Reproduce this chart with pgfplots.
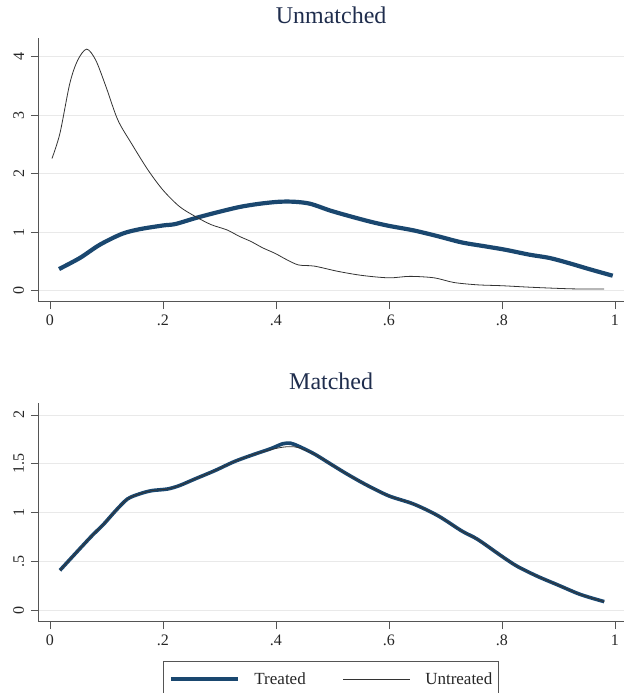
\documentclass[border=0pt]{standalone}
\usepackage{fontspec}
\setmainfont{Liberation Serif}
\usepackage{pgfplots}
\pgfplotsset{compat=1.18}
\definecolor{stnavy}{HTML}{1A476F}
\definecolor{titlecol}{HTML}{1F2D4D}
\definecolor{axiscol}{HTML}{555555}
\definecolor{gridcol}{HTML}{E9E9E9}
\pgfplotsset{
  stata/.style={
    scale only axis,
    anchor=south west,
    width=585.7bp,
    xmin=-0.0207, xmax=1.016,
    axis x line*=bottom, axis y line*=left,
    axis line style={axiscol, line width=0.9bp},
    every tick/.style={axiscol, line width=0.9bp},
    tick align=outside,
    major tick length=7.5bp,
    xtick={0,0.2,0.4,0.6,0.8,1},
    xticklabels={0,.2,.4,.6,.8,1},
    ymajorgrids,
    grid style={gridcol, line width=0.9bp},
    tick label style={font=\fontsize{16bp}{19bp}\selectfont, text=black!85},
    xticklabel style={inner sep=0pt, anchor=north, yshift=-5.5bp},
    yticklabel style={rotate=90, inner sep=0pt, anchor=south, yshift=6.5bp},
    title style={font=\fontsize{24bp}{28bp}\selectfont, text=titlecol, at={(0.5,1)}, anchor=base},
    clip=false,
  }
}
\begin{document}
\begin{tikzpicture}
\useasboundingbox (0,0) rectangle (624bp,693bp);
% ---------- Unmatched ----------
\begin{axis}[stata,
  at={(38.3bp,391.3bp)},
  height=263.7bp,
  ymin=-0.188, ymax=4.32,
  ytick={0,1,2,3,4},
  yticklabels={0,1,2,3,4},
  title={Unmatched},
  title style={yshift=9bp},
]
\addplot[stnavy, line width=4.2bp, smooth] coordinates {
(0.016,0.37) (0.053,0.56) (0.088,0.785) (0.127,0.97) (0.158,1.05)
(0.2,1.115) (0.222,1.14) (0.257,1.24) (0.292,1.33) (0.335,1.43)
(0.37,1.485) (0.405,1.52) (0.433,1.52) (0.461,1.485) (0.496,1.37)
(0.532,1.27) (0.567,1.18) (0.599,1.11) (0.644,1.03) (0.687,0.93)
(0.729,0.825) (0.771,0.757) (0.806,0.70) (0.849,0.615) (0.884,0.56)
(0.919,0.47) (0.954,0.37) (0.996,0.256)
};
\addplot[black!80, line width=0.8bp, smooth] coordinates {
(0.0035,2.26) (0.0176,2.69) (0.035,3.54) (0.049,3.94) (0.065,4.13)
(0.081,3.94) (0.099,3.49) (0.12,2.92) (0.144,2.52) (0.173,2.07)
(0.2,1.72) (0.229,1.44) (0.257,1.27) (0.285,1.13) (0.313,1.04)
(0.335,0.93) (0.356,0.84) (0.377,0.73) (0.398,0.64) (0.419,0.53)
(0.44,0.44) (0.468,0.42) (0.51,0.33) (0.553,0.26) (0.6,0.22)
(0.637,0.245) (0.68,0.22) (0.715,0.14) (0.757,0.10) (0.8,0.085)
(0.849,0.06) (0.898,0.04) (0.933,0.03) (0.981,0.03)
};
\end{axis}
% ---------- Matched ----------
\begin{axis}[stata,
  at={(38.3bp,71.3bp)},
  height=218.4bp,
  ymin=-0.12, ymax=2.12,
  ytick={0,0.5,1,1.5,2},
  yticklabels={0,.5,1,1.5,2},
  title={Matched},
  title style={yshift=8.3bp},
  legend columns=2,
  legend style={
    at={(0.2124,-0.18)}, anchor=north west,
    draw=axiscol, line width=0.9bp,
    inner xsep=6bp, inner ysep=11bp,
    font=\fontsize{17bp}{20bp}\selectfont,
    nodes={inner sep=0pt, text=black!85},
    column sep=0pt,
    /tikz/every odd column/.append style={column sep=14.7bp},
    /tikz/every even column/.append style={column sep=37bp},
  },
  legend image code/.code={\draw[#1] (0bp,0bp) -- (67bp,0bp);},
]
\addplot[stnavy, line width=3.6bp, smooth] coordinates {
(0.0176,0.407) (0.046,0.586) (0.074,0.76) (0.095,0.88) (0.116,1.017)
(0.137,1.138) (0.158,1.19) (0.18,1.224) (0.208,1.241) (0.229,1.276)
(0.257,1.345) (0.292,1.43) (0.327,1.524) (0.363,1.60) (0.391,1.655)
(0.412,1.705) (0.426,1.71) (0.44,1.68) (0.468,1.60) (0.496,1.50)
(0.525,1.397) (0.56,1.283) (0.6,1.17) (0.644,1.086) (0.687,0.966)
(0.729,0.81) (0.757,0.724) (0.8,0.55) (0.827,0.448) (0.863,0.345)
(0.898,0.259) (0.933,0.172) (0.954,0.131) (0.981,0.086)
};
\addlegendentry{Treated}
\addplot[black!80, line width=0.8bp, smooth] coordinates {
(0.0176,0.407) (0.046,0.586) (0.074,0.76) (0.095,0.88) (0.116,1.017)
(0.137,1.138) (0.158,1.19) (0.18,1.224) (0.208,1.241) (0.229,1.276)
(0.257,1.345) (0.292,1.43) (0.327,1.524) (0.363,1.60) (0.391,1.645)
(0.412,1.67) (0.426,1.675) (0.44,1.665) (0.468,1.60) (0.496,1.50)
(0.525,1.397) (0.56,1.283) (0.6,1.17) (0.644,1.086) (0.687,0.966)
(0.729,0.81) (0.757,0.724) (0.8,0.55) (0.827,0.448) (0.863,0.345)
(0.898,0.259) (0.933,0.172) (0.954,0.131) (0.981,0.086)
};
\addlegendentry{Untreated}
\end{axis}
\end{tikzpicture}
\end{document}
